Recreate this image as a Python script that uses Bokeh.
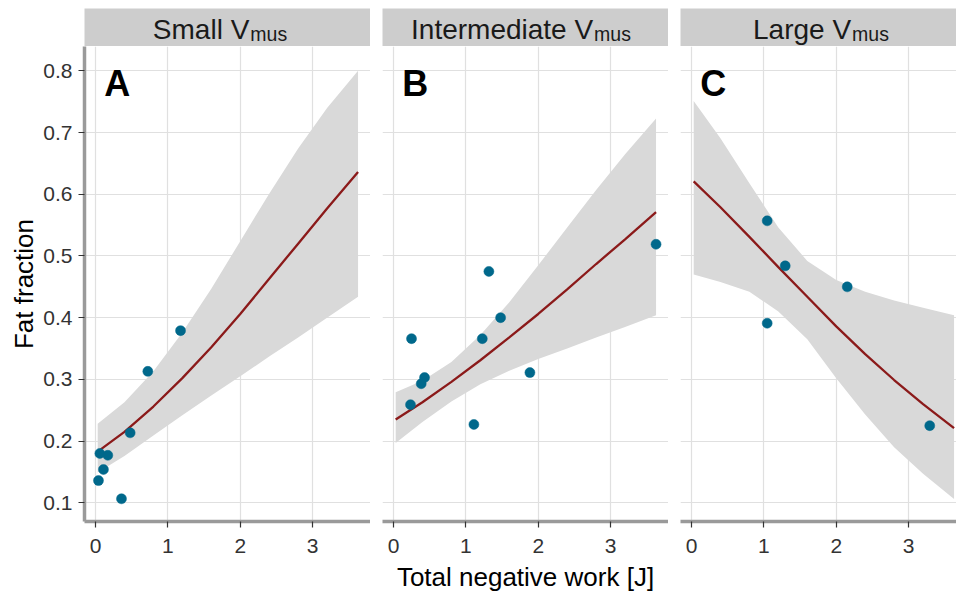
from bokeh.plotting import figure
from bokeh.layouts import row, column
from bokeh.models import Range1d, FixedTicker, PrintfTickFormatter
from bokeh.core.properties import value
from bokeh.embed import file_html
from bokeh.resources import INLINE

# ---------------------------------------------------------------- data
PANEL_TITLES = ["Small V", "Intermediate V", "Large V"]
PANEL_SUB = "mus"
PANEL_LETTERS = ["A", "B", "C"]
X_TICKS = [0, 1, 2, 3]
Y_TICKS = [0.1, 0.2, 0.3, 0.4, 0.5, 0.6, 0.7, 0.8]
X_LABEL = "Total negative work [J]"
Y_LABEL = "Fat fraction"

# observed muscles: negative work [J] vs fat fraction
small_x = [0.041, 0.06, 0.11, 0.17, 0.359, 0.479, 0.723, 1.175]
small_y = [0.136, 0.180, 0.154, 0.177, 0.1065, 0.2134, 0.313, 0.379]
inter_x = [0.235, 0.249, 0.383, 0.429, 1.111, 1.227, 1.318, 1.480, 1.885, 3.628]
inter_y = [0.259, 0.366, 0.293, 0.303, 0.227, 0.366, 0.475, 0.400, 0.311, 0.519]
large_x = [1.046, 1.046, 1.295, 2.152, 3.292]
large_y = [0.557, 0.391, 0.484, 0.450, 0.225]

# model fit with 95% confidence band
fit_x = [0.03, 0.4, 0.8, 1.2, 1.6, 2.0, 2.4, 2.8, 3.2, 3.628]
small_fit = [0.183, 0.215, 0.256, 0.302, 0.352, 0.406, 0.463, 0.520, 0.577, 0.636]
small_lo = [0.149, 0.176, 0.209, 0.242, 0.274, 0.305, 0.337, 0.368, 0.400, 0.434]
small_hi = [0.228, 0.263, 0.313, 0.376, 0.447, 0.524, 0.601, 0.674, 0.740, 0.800]
inter_fit = [0.235, 0.263, 0.296, 0.331, 0.368, 0.406, 0.446, 0.487, 0.527, 0.571]
inter_lo = [0.197, 0.231, 0.264, 0.292, 0.314, 0.333, 0.350, 0.368, 0.385, 0.404]
inter_hi = [0.279, 0.298, 0.328, 0.372, 0.425, 0.485, 0.546, 0.607, 0.665, 0.723]
large_fit = [0.621, 0.579, 0.531, 0.482, 0.434, 0.386, 0.341, 0.299, 0.260, 0.221]
large_lo = [0.470, 0.458, 0.442, 0.410, 0.365, 0.302, 0.243, 0.190, 0.147, 0.106]
large_hi = [0.751, 0.691, 0.618, 0.546, 0.492, 0.461, 0.442, 0.428, 0.416, 0.404]

# ---------------------------------------------------------------- style
FONT = "Liberation Sans"
POINT_COLOR = "#00688B"
LINE_COLOR = "#8B1A1A"
BAND_COLOR = "#D9D9D9"
GRID_COLOR = "#E0E0E0"
AXIS_COLOR = "#9A9A9A"
STRIP_COLOR = "#CDCDCD"
TICK_TEXT = "#333333"

X0, X1 = -0.152, 3.80
Y0, Y1 = 0.0697, 0.8395
PANEL_W = [286, 286, 276]
LEFT_GAP = [84, 12, 12]
FRAME_H = 475
STRIP_H = 38
TOP_PAD = 8
BOTTOM_PAD = 76
LETTER_X, LETTER_Y = 0.12, 0.78
STRIP_SIZE, SUB_SIZE = 28.0, 19.5
STRIP_BASE, SUB_BASE = 17.2, 13.0
STRIP_SHIFT = [-8, -5, 2]

# Arial / Liberation Sans advance widths (1/1000 em)
ADV = {" ": 278, "S": 667, "m": 833, "a": 556, "l": 222, "V": 667, "I": 278,
       "n": 556, "t": 278, "e": 556, "r": 333, "d": 556, "i": 222, "L": 556,
       "g": 556, "u": 556, "s": 500}


def text_width(s, size):
    return sum(ADV.get(c, 556) for c in s) * size / 1000.0


def make_strip(i):
    w = PANEL_W[i]
    s = figure(frame_width=w, frame_height=STRIP_H,
               x_range=Range1d(0, w), y_range=Range1d(0, STRIP_H),
               x_axis_location=None, y_axis_location=None,
               min_border_left=LEFT_GAP[i], min_border_right=0,
               min_border_top=TOP_PAD, min_border_bottom=0,
               background_fill_color=STRIP_COLOR, border_fill_color="white",
               outline_line_color=None, toolbar_location=None,
               output_backend="svg")
    s.grid.visible = False
    main_w = text_width(PANEL_TITLES[i], STRIP_SIZE)
    sub_w = text_width(PANEL_SUB, SUB_SIZE)
    start = (w - main_w - sub_w) / 2.0 + STRIP_SHIFT[i]
    join = start + main_w
    s.text(x=[join], y=[STRIP_BASE], text=[PANEL_TITLES[i]], text_align="right",
           text_baseline="alphabetic", text_font=value(FONT),
           text_font_size=value(f"{STRIP_SIZE}px"), text_color="#1A1A1A")
    s.text(x=[join + 1], y=[SUB_BASE], text=[PANEL_SUB], text_align="left",
           text_baseline="alphabetic", text_font=value(FONT),
           text_font_size=value(f"{SUB_SIZE}px"), text_color="#1A1A1A")
    return s


def make_panel(i, px, py, fit, lo, hi):
    w = PANEL_W[i]
    x_end = X0 + (X1 - X0) * w / PANEL_W[0]
    p = figure(frame_width=w, frame_height=FRAME_H,
               x_range=Range1d(X0, x_end), y_range=Range1d(Y0, Y1),
               y_axis_location="left" if i == 0 else None,
               min_border_left=LEFT_GAP[i], min_border_right=0,
               min_border_top=0, min_border_bottom=BOTTOM_PAD,
               background_fill_color="white", border_fill_color="white",
               outline_line_color=None, toolbar_location=None,
               output_backend="svg")

    p.xgrid.ticker = FixedTicker(ticks=X_TICKS)
    p.ygrid.ticker = FixedTicker(ticks=Y_TICKS)
    for g in (p.xgrid[0], p.ygrid[0]):
        g.grid_line_color = GRID_COLOR
        g.grid_line_width = 1.2
        g.minor_grid_line_color = None

    axes = list(p.xaxis) + (list(p.yaxis) if i == 0 else [])
    for ax in axes:
        ax.axis_line_color = AXIS_COLOR
        ax.axis_line_width = 3.5
        ax.major_tick_line_color = "#333333"
        ax.major_tick_line_width = 1.2
        ax.major_tick_out = 6
        ax.major_tick_in = 0
        ax.minor_tick_line_color = None
        ax.major_label_text_font = FONT
        ax.major_label_text_font_size = "21px"
        ax.major_label_text_color = TICK_TEXT
        ax.axis_label_text_font = FONT
        ax.axis_label_text_font_size = "26px"
        ax.axis_label_text_font_style = "normal"
        ax.axis_label_text_color = "black"

    p.xaxis.ticker = FixedTicker(ticks=X_TICKS)
    p.xaxis.major_label_standoff = 11
    p.xaxis.axis_label_standoff = 6
    if i == 0:
        p.yaxis.ticker = FixedTicker(ticks=Y_TICKS)
        p.yaxis.formatter = PrintfTickFormatter(format="%.1f")
        p.yaxis.axis_label = Y_LABEL
        p.yaxis.major_label_standoff = 6
        p.yaxis.axis_label_standoff = 1
    if i == 1:
        p.xaxis.axis_label = X_LABEL

    p.varea(x=fit_x, y1=lo, y2=hi, fill_color=BAND_COLOR, fill_alpha=1.0)
    p.line(x=fit_x, y=fit, line_color=LINE_COLOR, line_width=2.3)
    p.scatter(x=px, y=py, size=10, fill_color=POINT_COLOR,
              line_color=POINT_COLOR, line_width=0.5)
    p.text(x=[LETTER_X], y=[LETTER_Y], text=[PANEL_LETTERS[i]],
           text_align="left", text_baseline="alphabetic",
           text_font=value(FONT), text_font_style="bold",
           text_font_size=value("36px"), text_color="black")
    return p


panels = [
    make_panel(0, small_x, small_y, small_fit, small_lo, small_hi),
    make_panel(1, inter_x, inter_y, inter_fit, inter_lo, inter_hi),
    make_panel(2, large_x, large_y, large_fit, large_lo, large_hi),
]
strips = [make_strip(i) for i in range(3)]

layout = column(row(*strips, spacing=0), row(*panels, spacing=0), spacing=0)

open("out.html", "w").write(file_html(layout, INLINE))
